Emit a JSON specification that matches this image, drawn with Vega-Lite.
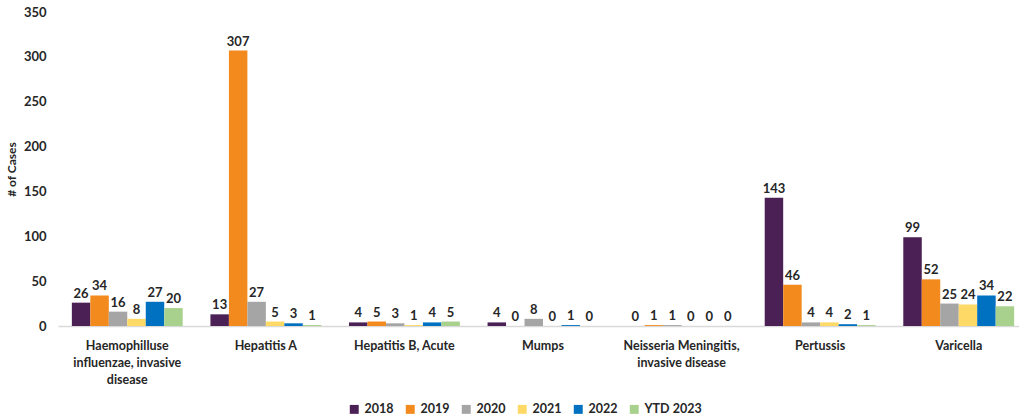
{
  "$schema": "https://vega.github.io/schema/vega-lite/v6.json",
  "autosize": {"type": "none"},
  "width": 970,
  "height": 314,
  "padding": {"left": 58, "top": 12, "right": 0, "bottom": 89},
  "background": "white",
  "config": {
    "font": "Lato",
    "view": {"stroke": null}
  },
  "data": {
    "values": [
      {"disease": "Haemophilluse|influenzae, invasive|disease", "year": "2018", "cases": 26},
      {"disease": "Haemophilluse|influenzae, invasive|disease", "year": "2019", "cases": 34},
      {"disease": "Haemophilluse|influenzae, invasive|disease", "year": "2020", "cases": 16},
      {"disease": "Haemophilluse|influenzae, invasive|disease", "year": "2021", "cases": 8},
      {"disease": "Haemophilluse|influenzae, invasive|disease", "year": "2022", "cases": 27},
      {"disease": "Haemophilluse|influenzae, invasive|disease", "year": "YTD 2023", "cases": 20},
      {"disease": "Hepatitis A", "year": "2018", "cases": 13},
      {"disease": "Hepatitis A", "year": "2019", "cases": 307},
      {"disease": "Hepatitis A", "year": "2020", "cases": 27},
      {"disease": "Hepatitis A", "year": "2021", "cases": 5},
      {"disease": "Hepatitis A", "year": "2022", "cases": 3},
      {"disease": "Hepatitis A", "year": "YTD 2023", "cases": 1},
      {"disease": "Hepatitis B, Acute", "year": "2018", "cases": 4},
      {"disease": "Hepatitis B, Acute", "year": "2019", "cases": 5},
      {"disease": "Hepatitis B, Acute", "year": "2020", "cases": 3},
      {"disease": "Hepatitis B, Acute", "year": "2021", "cases": 1},
      {"disease": "Hepatitis B, Acute", "year": "2022", "cases": 4},
      {"disease": "Hepatitis B, Acute", "year": "YTD 2023", "cases": 5},
      {"disease": "Mumps", "year": "2018", "cases": 4},
      {"disease": "Mumps", "year": "2019", "cases": 0},
      {"disease": "Mumps", "year": "2020", "cases": 8},
      {"disease": "Mumps", "year": "2021", "cases": 0},
      {"disease": "Mumps", "year": "2022", "cases": 1},
      {"disease": "Mumps", "year": "YTD 2023", "cases": 0},
      {"disease": "Neisseria Meningitis,|invasive disease", "year": "2018", "cases": 0},
      {"disease": "Neisseria Meningitis,|invasive disease", "year": "2019", "cases": 1},
      {"disease": "Neisseria Meningitis,|invasive disease", "year": "2020", "cases": 1},
      {"disease": "Neisseria Meningitis,|invasive disease", "year": "2021", "cases": 0},
      {"disease": "Neisseria Meningitis,|invasive disease", "year": "2022", "cases": 0},
      {"disease": "Neisseria Meningitis,|invasive disease", "year": "YTD 2023", "cases": 0},
      {"disease": "Pertussis", "year": "2018", "cases": 143},
      {"disease": "Pertussis", "year": "2019", "cases": 46},
      {"disease": "Pertussis", "year": "2020", "cases": 4},
      {"disease": "Pertussis", "year": "2021", "cases": 4},
      {"disease": "Pertussis", "year": "2022", "cases": 2},
      {"disease": "Pertussis", "year": "YTD 2023", "cases": 1},
      {"disease": "Varicella", "year": "2018", "cases": 99},
      {"disease": "Varicella", "year": "2019", "cases": 52},
      {"disease": "Varicella", "year": "2020", "cases": 25},
      {"disease": "Varicella", "year": "2021", "cases": 24},
      {"disease": "Varicella", "year": "2022", "cases": 34},
      {"disease": "Varicella", "year": "YTD 2023", "cases": 22}
    ]
  },
  "encoding": {
    "x": {
      "field": "disease",
      "type": "nominal",
      "sort": null,
      "scale": {"paddingInner": 0.2, "paddingOuter": 0.1},
      "axis": {
        "title": null,
        "labelAngle": 0,
        "labelExpr": "split(datum.label, '|')",
        "labelFont": "Lato",
        "labelFontWeight": "bold",
        "labelFontSize": 12.5,
        "labelColor": "#262626",
        "labelLineHeight": 17,
        "labelPadding": 13,
        "ticks": false,
        "domainColor": "#d9d9d9",
        "domainWidth": 1.5
      }
    },
    "xOffset": {"field": "year", "type": "nominal", "scale": {"paddingInner": 0, "paddingOuter": 0}},
    "y": {
      "field": "cases",
      "type": "quantitative",
      "scale": {"domain": [0, 350], "nice": false},
      "axis": {
        "title": "# of Cases",
        "titleFont": "Lato",
        "titleFontWeight": "bold",
        "titleFontSize": 12,
        "titleColor": "#262626",
        "titlePadding": 5,
        "values": [0, 50, 100, 150, 200, 250, 300, 350],
        "grid": false,
        "domain": false,
        "ticks": false,
        "labelFont": "Lato",
        "labelFontWeight": "bold",
        "labelFontSize": 13,
        "labelColor": "#262626",
        "labelPadding": 12
      }
    }
  },
  "layer": [
    {
      "mark": {"type": "bar"},
      "encoding": {
        "color": {
          "field": "year",
          "type": "nominal",
          "scale": {
            "domain": ["2018", "2019", "2020", "2021", "2022", "YTD 2023"],
            "range": ["#4B2055", "#F28A1E", "#A5A5A5", "#FFD966", "#0070C0", "#A9D18E"]
          },
          "legend": {
            "title": null,
            "orient": "none",
            "direction": "horizontal",
            "legendX": 290,
            "legendY": 391,
            "symbolType": "square",
            "symbolSize": 80,
            "symbolStrokeWidth": 0,
            "labelFont": "Lato",
            "labelFontWeight": "bold",
            "labelFontSize": 12.5,
            "labelColor": "#262626",
            "columnPadding": 10,
            "labelOffset": 4
          }
        }
      }
    },
    {
      "mark": {"type": "text", "dy": -9, "font": "Lato", "fontWeight": "bold", "fontSize": 13, "color": "#262626"},
      "encoding": {
        "text": {"field": "cases", "type": "quantitative"}
      }
    }
  ]
}
